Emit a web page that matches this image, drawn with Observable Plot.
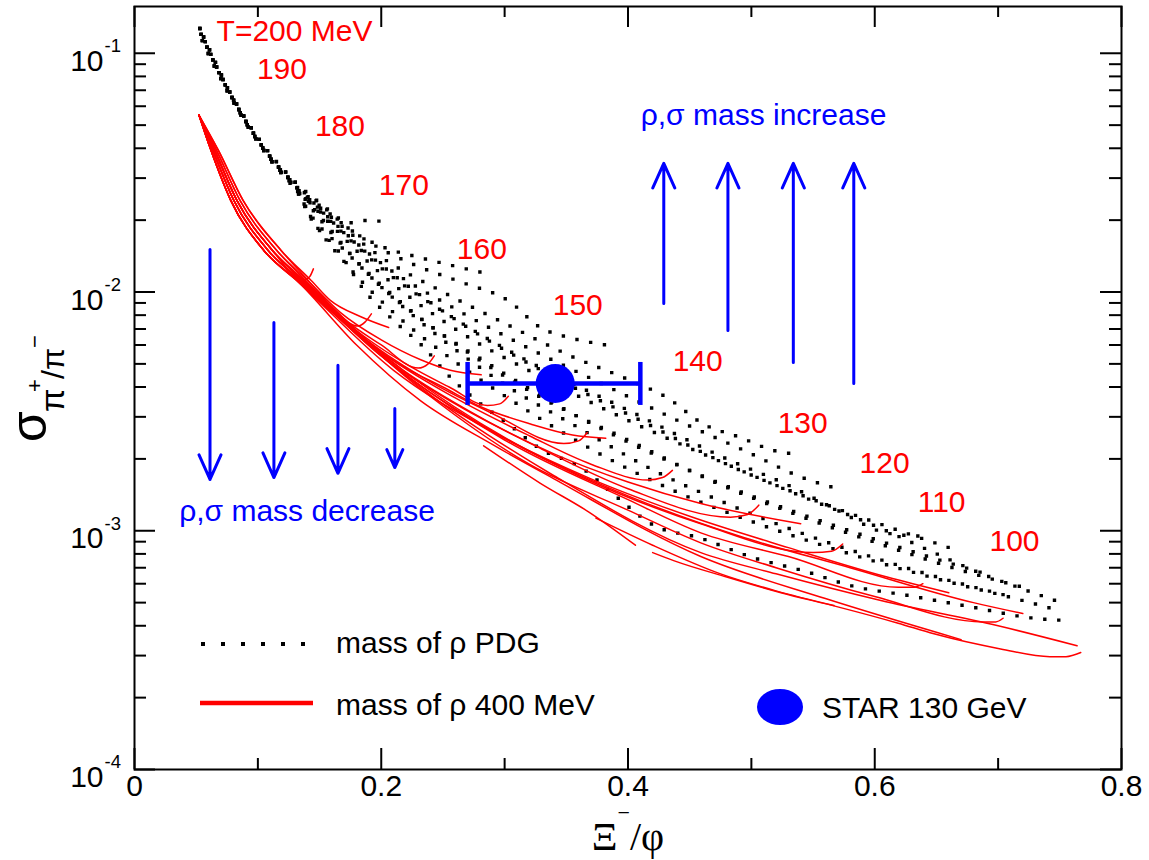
<!DOCTYPE html>
<html><head><meta charset="utf-8">
<script src="https://cdn.jsdelivr.net/npm/d3@7"></script>
<script src="https://cdn.jsdelivr.net/npm/@observablehq/plot@0.6"></script>
<style>body{margin:0;background:#fff}#chart{width:1149px;height:860px}</style>
</head><body><div id="chart"></div>
<script>
// ---------------- data ----------------
const xTicks = [0, 0.2, 0.4, 0.6, 0.8];
const xTickLabels = ["0", "0.2", "0.4", "0.6", "0.8"];
const xMinorTicks = [0.1, 0.3, 0.5, 0.7];
const yTicks = [1e-1, 1e-2, 1e-3, 1e-4];
const yTickExponents = ["-1", "-2", "-3", "-4"];
const yMinorTicks = [2e-4,3e-4,4e-4,5e-4,6e-4,7e-4,8e-4,9e-4,2e-3,3e-3,4e-3,5e-3,6e-3,7e-3,8e-3,9e-3,2e-2,3e-2,4e-2,5e-2,6e-2,7e-2,8e-2,9e-2];

// black dotted curves: mass of rho PDG (high-T ridge, four close variants)
const ridgeA = [[0.053,0.127],[0.061,0.101],[0.081,0.0635],[0.108,0.039],[0.127,0.030]];
const ridgeB = [[0.054,0.120],[0.063,0.095],[0.083,0.0600],[0.110,0.0368],[0.129,0.0284]];
const ridgeC = [[0.055,0.113],[0.064,0.090],[0.085,0.0566],[0.112,0.0348],[0.131,0.0268]];
const ridgeD = [[0.056,0.117],[0.065,0.093],[0.084,0.0585],[0.111,0.0358],[0.130,0.0276]];
const pdg170 = [[0.151,0.0235],[0.175,0.0195],[0.190,0.0200],[0.206,0.0194]];
const pdg160 = [[0.151,0.0232],[0.180,0.0175],[0.205,0.0152],[0.230,0.0140],[0.255,0.0130],[0.281,0.0121]];
const pdg150 = [[0.151,0.0228],[0.190,0.0162],[0.230,0.0128],[0.267,0.0109],[0.303,0.0092],[0.329,0.0071],[0.355,0.0064],[0.382,0.0060]];
const pdg130 = [[0.151,0.0224],[0.200,0.0140],[0.250,0.0100],[0.300,0.0074],[0.350,0.0055],[0.400,0.0043],[0.432,0.0036],[0.461,0.0028],[0.491,0.00246],[0.518,0.00217],[0.531,0.00211]];
const pdg120 = [[0.151,0.0220],[0.200,0.0132],[0.260,0.0085],[0.320,0.0058],[0.380,0.0041],[0.440,0.0029],[0.500,0.0021],[0.540,0.00168],[0.570,0.00150]];
const pdg110 = [[0.151,0.0216],[0.200,0.0126],[0.260,0.0077],[0.320,0.0051],[0.400,0.0032],[0.480,0.0020],[0.530,0.00155],[0.571,0.00121],[0.609,0.00098],[0.636,0.00095]];
const pdg100 = [[0.151,0.0212],[0.200,0.0119],[0.260,0.0070],[0.330,0.0044],[0.400,0.0029],[0.470,0.0020],[0.540,0.00140],[0.600,0.00105],[0.648,0.00081],[0.687,0.00066],[0.716,0.00058],[0.756,0.00049]];
const pdgLow = [[0.143,0.0203],[0.165,0.0149],[0.186,0.0102],[0.210,0.0076],[0.234,0.0059],[0.254,0.0045],[0.279,0.00345],[0.303,0.0028],[0.329,0.0022],[0.362,0.00184],[0.389,0.00141],[0.420,0.00106],[0.459,0.00093],[0.502,0.00077],[0.542,0.00068],[0.586,0.00058],[0.623,0.00054],[0.678,0.00048],[0.729,0.00043],[0.759,0.00042]];
const pdgMidA = [[0.143,0.0210],[0.170,0.0150],[0.200,0.0105],[0.250,0.0063],[0.300,0.0041],[0.360,0.0027],[0.420,0.0018],[0.480,0.0013],[0.540,0.00098],[0.600,0.00077],[0.660,0.00062],[0.704,0.00054]];
const pdgMidB = [[0.147,0.0212],[0.180,0.0135],[0.220,0.0087],[0.270,0.0056],[0.330,0.0036],[0.400,0.0024],[0.470,0.0016],[0.540,0.00115],[0.610,0.00086],[0.680,0.00066],[0.720,0.00058]];
const pdgMidC = [[0.143,0.0206],[0.175,0.0125],[0.210,0.0082],[0.260,0.0051],[0.310,0.0034],[0.370,0.0022],[0.440,0.00145],[0.510,0.00105],[0.580,0.00080],[0.650,0.00063],[0.720,0.00051],[0.745,0.00047]];
const pdgMidD = [[0.151,0.0220],[0.210,0.0118],[0.270,0.0071],[0.340,0.0044],[0.410,0.0029],[0.480,0.0019],[0.550,0.00135],[0.620,0.00100],[0.660,0.00085]];
const pdgMidE = [[0.148,0.0215],[0.190,0.0118],[0.240,0.0072],[0.290,0.0049],[0.350,0.0032],[0.420,0.0021],[0.500,0.00140],[0.570,0.00104],[0.640,0.00079],[0.690,0.00066]];

// red solid curves: mass of rho 400 MeV
const r1 = [[0.0523,0.055],[0.065,0.0392],[0.083,0.0242],[0.112,0.0149],[0.137,0.0112],[0.142,0.0116],[0.145,0.0125]];
const r2 = [[0.0523,0.055],[0.068,0.0392],[0.088,0.0242],[0.119,0.0149],[0.143,0.0112],[0.159,0.0092],[0.183,0.0079],[0.206,0.0071]];
const r3 = [[0.0523,0.055],[0.068,0.0392],[0.088,0.0242],[0.119,0.0149],[0.142,0.0110],[0.160,0.0087],[0.181,0.0072],[0.187,0.0075],[0.192,0.0081]];
const r4 = [[0.0523,0.055],[0.0665,0.0392],[0.0855,0.0242],[0.1155,0.0149],[0.141,0.0111],[0.167,0.0082],[0.200,0.0063],[0.232,0.0052],[0.256,0.0047],[0.281,0.0045]];
const r5 = [[0.0523,0.055],[0.0665,0.0392],[0.0855,0.0242],[0.1155,0.0149],[0.140,0.0110],[0.170,0.0077],[0.200,0.0060],[0.230,0.0048],[0.238,0.0050],[0.243,0.0054]];
const r6 = [[0.0523,0.055],[0.065,0.0392],[0.083,0.0242],[0.112,0.0149],[0.139,0.0110],[0.180,0.0069],[0.220,0.0050],[0.255,0.0040],[0.286,0.00335],[0.296,0.0034],[0.303,0.00366]];
const r7 = [[0.0523,0.055],[0.065,0.0392],[0.083,0.0242],[0.112,0.0149],[0.139,0.0110],[0.180,0.0067],[0.220,0.0048],[0.250,0.0040],[0.281,0.0033],[0.321,0.0028],[0.355,0.00252],[0.382,0.00244]];
const r8 = [[0.0523,0.055],[0.065,0.0392],[0.083,0.0242],[0.112,0.0149],[0.138,0.0110],[0.190,0.0062],[0.240,0.0042],[0.290,0.0031],[0.348,0.00232],[0.360,0.00238],[0.367,0.00258]];
const r9 = [[0.0523,0.055],[0.0635,0.0392],[0.0805,0.0242],[0.1085,0.0149],[0.137,0.0110],[0.200,0.0056],[0.260,0.0036],[0.320,0.0025],[0.370,0.0019],[0.416,0.00163],[0.428,0.00167],[0.436,0.00179]];
const r10 = [[0.0523,0.055],[0.0635,0.0392],[0.0805,0.0242],[0.1085,0.0149],[0.136,0.0110],[0.200,0.0054],[0.260,0.0034],[0.330,0.0022],[0.400,0.0015],[0.483,0.00114],[0.497,0.00117],[0.506,0.00128]];
const r11 = [[0.0523,0.055],[0.0635,0.0392],[0.0805,0.0242],[0.1085,0.0149],[0.135,0.0110],[0.210,0.0049],[0.280,0.0028],[0.360,0.0017],[0.459,0.00107],[0.550,0.00081],[0.565,0.00082],[0.574,0.00088]];
const r12 = [[0.0523,0.055],[0.062,0.0392],[0.078,0.0242],[0.105,0.0149],[0.134,0.0110],[0.220,0.0045],[0.300,0.0024],[0.400,0.00135],[0.459,0.00098],[0.530,0.00078],[0.619,0.00058],[0.632,0.00058],[0.639,0.00060]];
const r13 = [[0.0523,0.055],[0.062,0.0392],[0.078,0.0242],[0.105,0.0149],[0.134,0.0110],[0.230,0.0040],[0.320,0.0019],[0.400,0.00122],[0.459,0.00089],[0.520,0.00070],[0.600,0.00053],[0.688,0.000415],[0.698,0.000415],[0.704,0.00043]];
const r14 = [[0.0523,0.055],[0.062,0.0392],[0.078,0.0242],[0.105,0.0149],[0.133,0.0110],[0.240,0.0037],[0.340,0.0017],[0.459,0.00081],[0.520,0.00066],[0.605,0.00051],[0.700,0.00040],[0.764,0.00033]];
const r15 = [[0.0523,0.055],[0.0635,0.0392],[0.0805,0.0242],[0.1085,0.0149],[0.136,0.0110],[0.200,0.0055],[0.270,0.0032],[0.340,0.0021],[0.400,0.0016],[0.459,0.0013],[0.540,0.00107]];
const r16 = [[0.0523,0.055],[0.062,0.0392],[0.078,0.0242],[0.105,0.0149],[0.133,0.0110],[0.180,0.0060],[0.232,0.0035],[0.290,0.0023],[0.340,0.00165],[0.459,0.00078],[0.560,0.00052],[0.670,0.00035]];
const r17 = [[0.0523,0.055],[0.062,0.0392],[0.078,0.0242],[0.105,0.0149],[0.133,0.0110],[0.210,0.0047],[0.290,0.0026],[0.370,0.00165],[0.450,0.00115],[0.530,0.00085],[0.610,0.00064],[0.660,0.00055]];
const r18 = [[0.0523,0.055],[0.065,0.0392],[0.083,0.0242],[0.112,0.0149],[0.137,0.0110],[0.220,0.0046],[0.310,0.0023],[0.400,0.00140],[0.490,0.00095],[0.580,0.00070],[0.680,0.00050],[0.720,0.00045]];
const m1 = [[0.283,0.00227],[0.329,0.00158],[0.368,0.00120],[0.406,0.00087]];
const m2 = [[0.374,0.00113],[0.420,0.00087],[0.475,0.00066],[0.520,0.00056],[0.567,0.000486]];
const m3 = [[0.420,0.00081],[0.437,0.00075],[0.480,0.00064],[0.524,0.00055],[0.570,0.00048],[0.619,0.00041],[0.648,0.00037],[0.702,0.00032],[0.742,0.000297],[0.755,0.000297],[0.767,0.000309]];

// temperature labels
const tempLabels = ["T=200 MeV","190","180","170","160","150","140","130","120","110","100"];
const tempLabelX = [0.1297,0.1195,0.1665,0.2183,0.2815,0.3593,0.4565,0.5416,0.6080,0.6542,0.7133];
const tempLabelY = [0.1236,0.0856,0.0494,0.0280,0.01507,0.00879,0.00512,0.00282,0.00191,0.00131,0.000902];

// blue arrows (mass decrease / increase)
const downX = [0.0612, 0.1130, 0.1649, 0.2110];
const downFrom = [0.01507, 0.00746, 0.00493, 0.00325];
const downTo = [0.00164, 0.00167, 0.00174, 0.00184];
const upX = [0.429, 0.481, 0.534, 0.583];
const upFrom = [0.00895, 0.0069, 0.00507, 0.00414];
const upTo = [0.0346, 0.0346, 0.0346, 0.0346];
const arrowNotes = ["ρ,σ mass increase", "ρ,σ mass decrease"];
const arrowNoteX = [0.4103, 0.0362];
const arrowNoteY = [0.0551, 0.00121];

// STAR 130 GeV point
const starX = [0.341];
const starY = [0.00414];
const starXLow = [0.270];
const starXHigh = [0.410];

// ---------------- layout ----------------
const W = 1149, H = 860;
const mL = 134, mR = 28, mT = 6, mB = 91;
const innerW = W - mL - mR, innerH = H - mT - mB;
const BLUE = "#0000ff", RED = "#ff0000";
const SANS = "'Liberation Sans', Arial, Helvetica, sans-serif";
const SERIF = "'Liberation Serif', 'Times New Roman', serif";
const FS = 30;

const pdgBodies = [pdg170, pdg160, pdg150, pdg130, pdg120, pdg110, pdg100, pdgLow, pdgMidA, pdgMidB, pdgMidC, pdgMidD, pdgMidE];
const ridges = [ridgeA, ridgeA, ridgeB, ridgeD, ridgeB, ridgeC, ridgeD, ridgeC, ridgeC, ridgeB, ridgeD, ridgeA, ridgeB];
const pdgCurves = pdgBodies.map((c, i) => [...ridges[i], ...c]);
const redCurves = [r1,r2,r3,r4,r5,r6,r7,r8,r9,r10,r11,r12,r13,r14,r15,r16,r17,r18,m1,m2,m3];
const pdgRows = pdgCurves.flatMap((c, s) => c.map(([x, y]) => ({x, y, s})));
const redRows = redCurves.flatMap((c, s) => c.map(([x, y]) => ({x, y, s})));

const capSymbol = {draw(ctx, size) { const r = Math.sqrt(size / Math.PI); ctx.moveTo(0, -r); ctx.lineTo(0, r); }};
const tick = (o) => ({stroke: "black", strokeWidth: 2, ...o});

const plot = Plot.plot({
  width: W, height: H,
  marginLeft: mL, marginRight: mR, marginTop: mT, marginBottom: mB,
  style: {fontFamily: SANS, background: "white", color: "black"},
  x: {domain: [0, 0.8], axis: null},
  y: {type: "log", domain: [1e-4, 0.157], axis: null},
  marks: [
    Plot.line(pdgRows, {x: "x", y: "y", z: "s", stroke: "black", strokeWidth: 3.4, strokeDasharray: "0,14", strokeLinecap: "square", curve: "monotone-x"}),
    Plot.line(redRows, {x: "x", y: "y", z: "s", stroke: RED, strokeWidth: 1.5, curve: "monotone-x"}),
    Plot.arrow(downX, {x1: d => d, x2: d => d, y1: (d, i) => downFrom[i], y2: (d, i) => downTo[i], stroke: BLUE, strokeWidth: 3, headLength: 13.5, headAngle: 48}),
    Plot.arrow(upX, {x1: d => d, x2: d => d, y1: (d, i) => upFrom[i], y2: (d, i) => upTo[i], stroke: BLUE, strokeWidth: 3, headLength: 13.5, headAngle: 48}),
    Plot.ruleY(starY, {y: d => d, x1: (d, i) => starXLow[i], x2: (d, i) => starXHigh[i], stroke: BLUE, strokeWidth: 4.5}),
    Plot.dot(starXLow, {x: d => d, y: (d, i) => starY[i], symbol: capSymbol, r: 21.5, stroke: BLUE, strokeWidth: 4.5, fill: "none"}),
    Plot.dot(starXHigh, {x: d => d, y: (d, i) => starY[i], symbol: capSymbol, r: 21.5, stroke: BLUE, strokeWidth: 4.5, fill: "none"}),
    Plot.dot(starX, {x: d => d, y: (d, i) => starY[i], r: 19.5, fill: BLUE}),
    Plot.text(tempLabels, {x: (d, i) => tempLabelX[i], y: (d, i) => tempLabelY[i], text: d => d, fill: RED, fontSize: FS}),
    Plot.text(arrowNotes, {x: (d, i) => arrowNoteX[i], y: (d, i) => arrowNoteY[i], text: d => d, fill: BLUE, fontSize: FS, textAnchor: "start"}),
    // frame and inward ticks on all four sides
    Plot.frame({stroke: "black", strokeWidth: 2}),
    Plot.ruleX(xTicks, tick({x: d => d, insetTop: innerH - 21})),
    Plot.ruleX(xTicks, tick({x: d => d, insetBottom: innerH - 21})),
    Plot.ruleX(xMinorTicks, tick({x: d => d, insetTop: innerH - 11})),
    Plot.ruleX(xMinorTicks, tick({x: d => d, insetBottom: innerH - 11})),
    Plot.ruleY(yTicks, tick({y: d => d, insetRight: innerW - 21})),
    Plot.ruleY(yTicks, tick({y: d => d, insetLeft: innerW - 21})),
    Plot.ruleY(yMinorTicks, tick({y: d => d, insetRight: innerW - 12})),
    Plot.ruleY(yMinorTicks, tick({y: d => d, insetLeft: innerW - 12})),
    // tick labels
    Plot.text(xTicks, {x: d => d, frameAnchor: "bottom", text: (d, i) => xTickLabels[i], dy: 26, fontSize: FS, fill: "black"}),
    Plot.text(yTicks, {y: d => d, frameAnchor: "left", text: () => "10", textAnchor: "end", dx: -31, dy: 8, fontSize: FS, fill: "black"}),
    Plot.text(yTicks, {y: d => d, frameAnchor: "left", text: (d, i) => yTickExponents[i], textAnchor: "start", dx: -30, dy: -7, fontSize: 18.5, fill: "black"})
  ]
});

const svg = d3.select(plot);
// x-axis title: Ξ⁻/φ, centred under the 0.4 tick
const xt = svg.append("text").attr("x", 628).attr("y", 850).attr("text-anchor", "middle").style("text-anchor", "middle")
  .attr("font-family", SERIF).attr("font-size", 40).attr("fill", "black");
xt.append("tspan").text("Ξ");
xt.append("tspan").attr("font-size", 22).attr("dy", -30).text("−");
xt.append("tspan").attr("dy", 30).text("/φ");
// y-axis title: σ_{π+/π−}
const yt = svg.append("text").attr("transform", "translate(46,442) rotate(-90)")
  .attr("text-anchor", "start").style("text-anchor", "start").attr("font-family", SANS).attr("fill", "black");
yt.append("tspan").attr("x", 0).attr("font-size", 50).text("σ");
yt.append("tspan").attr("x", 30).attr("font-size", 34).attr("dy", 18).text("π");
yt.append("tspan").attr("x", 50).attr("font-size", 22).attr("dy", -22).text("+");
yt.append("tspan").attr("x", 63).attr("font-size", 32).attr("dy", 22).text("/π");
yt.append("tspan").attr("x", 94).attr("font-size", 22).attr("dy", -22).text("−");
// legend
const lg = svg.append("g").attr("font-family", SANS).attr("font-size", FS).attr("fill", "black")
  .attr("text-anchor", "start").style("text-anchor", "start");
lg.append("line").attr("x1", 203).attr("x2", 303.5).attr("y1", 644).attr("y2", 644)
  .attr("stroke", "black").attr("stroke-width", 4).attr("stroke-dasharray", "0,20").attr("stroke-linecap", "square");
lg.append("text").attr("x", 336).attr("y", 653).text("mass of ρ PDG");
lg.append("line").attr("x1", 200).attr("x2", 313).attr("y1", 703).attr("y2", 703).attr("stroke", RED).attr("stroke-width", 4.5);
lg.append("text").attr("x", 336).attr("y", 715).text("mass of ρ 400 MeV");
lg.append("ellipse").attr("cx", 780).attr("cy", 707).attr("rx", 23).attr("ry", 18).attr("fill", BLUE);
lg.append("text").attr("x", 822).attr("y", 718).text("STAR 130 GeV");

document.getElementById("chart").append(plot);
</script></body></html>
